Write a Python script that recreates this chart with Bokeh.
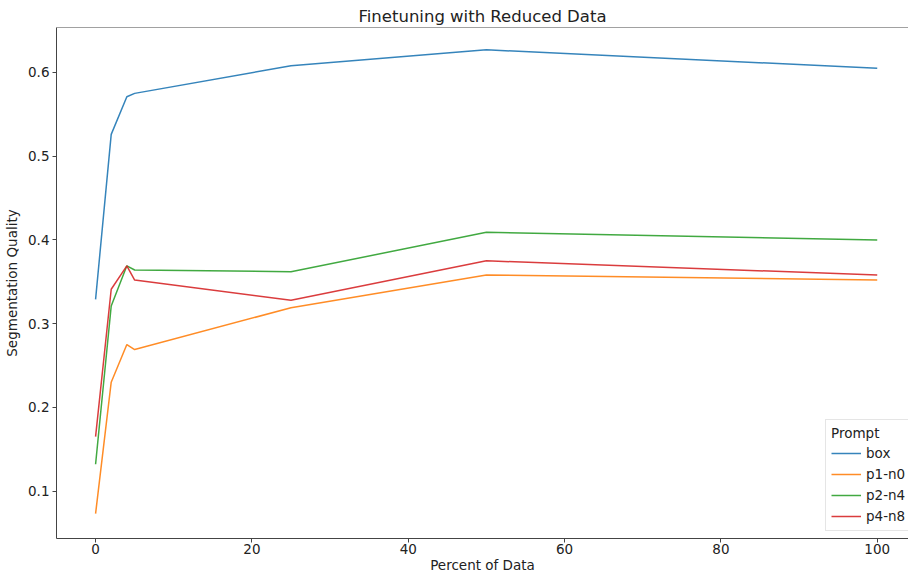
from bokeh.plotting import figure
from bokeh.models import Range1d, FixedTicker, Span, Legend, LegendItem
from bokeh.embed import file_html
from bokeh.resources import INLINE

percent = [0, 2, 4, 5, 25, 50, 100]
box = [0.329, 0.526, 0.571, 0.575, 0.608, 0.627, 0.605]
p1_n0 = [0.073, 0.230, 0.275, 0.269, 0.319, 0.358, 0.352]
p2_n4 = [0.132, 0.321, 0.369, 0.364, 0.362, 0.409, 0.400]
p4_n8 = [0.165, 0.341, 0.369, 0.352, 0.328, 0.375, 0.358]
series_names = ["box", "p1-n0", "p2-n4", "p4-n8"]
colors = ["#1f77b4", "#ff7f0e", "#2ca02c", "#d62728"]
x_ticks = [0, 20, 40, 60, 80, 100]
y_ticks = [0.1, 0.2, 0.3, 0.4, 0.5, 0.6]

FONT = "DejaVu Sans"

p = figure(width=908, height=575, output_backend="svg", toolbar_location=None,
           x_range=Range1d(-5, 104), y_range=Range1d(0.0433, 0.6537),
           min_border_left=56, min_border_right=0, min_border_top=27, min_border_bottom=0)

p.title.text = "Finetuning with Reduced Data"
p.title.align = "center"
p.title.text_font = FONT
p.title.text_font_size = "16.5px"
p.title.text_font_style = "normal"
p.title.text_color = "#222222"
p.title.standoff = 4
p.title.offset = 0

p.outline_line_color = None
p.grid.visible = False
p.background_fill_color = "white"
p.border_fill_color = "white"

for ax in (p.xaxis[0], p.yaxis[0]):
    ax.axis_line_color = "#444444"
    ax.axis_line_width = 1
    ax.major_tick_line_color = "#444444"
    ax.major_tick_out = 4
    ax.major_tick_in = 0
    ax.minor_tick_line_color = None
    ax.major_label_text_font = FONT
    ax.major_label_text_font_size = "13.5px"
    ax.major_label_text_color = "#222222"
    ax.axis_label_text_font = FONT
    ax.axis_label_text_font_size = "13.5px"
    ax.axis_label_text_font_style = "normal"
    ax.axis_label_text_color = "#222222"

p.xaxis.major_label_standoff = 1
p.xaxis.axis_label_standoff = 0
p.yaxis.major_label_standoff = 3
p.yaxis.axis_label_standoff = 5

p.xaxis.ticker = FixedTicker(ticks=x_ticks)
p.yaxis.ticker = FixedTicker(ticks=y_ticks)
p.xaxis.axis_label = "Percent of Data"
p.yaxis.axis_label = "Segmentation Quality"

top_spine = Span(location=0.6537, dimension="width", line_color="#444444", line_width=1)
p.add_layout(top_spine)

items = []
for name, ys, c in zip(series_names, [box, p1_n0, p2_n4, p4_n8], colors):
    r = p.line(percent, ys, line_color=c, line_width=1.5, line_alpha=0.9)
    items.append(LegendItem(label=name, renderers=[r]))

legend = Legend(items=items, location=(769, 7), title="Prompt",
                label_text_font=FONT, label_text_font_size="13.5px",
                title_text_font=FONT, title_text_font_size="13.5px",
                title_text_font_style="normal", title_standoff=3,
                label_text_color="#222222", title_text_color="#222222",
                glyph_width=30, glyph_height=16, label_height=18,
                spacing=3, padding=5, margin=0,
                border_line_color="#cccccc", border_line_width=1,
                background_fill_alpha=0.9)
p.add_layout(legend)

open("out.html", "w").write(file_html(p, INLINE))
